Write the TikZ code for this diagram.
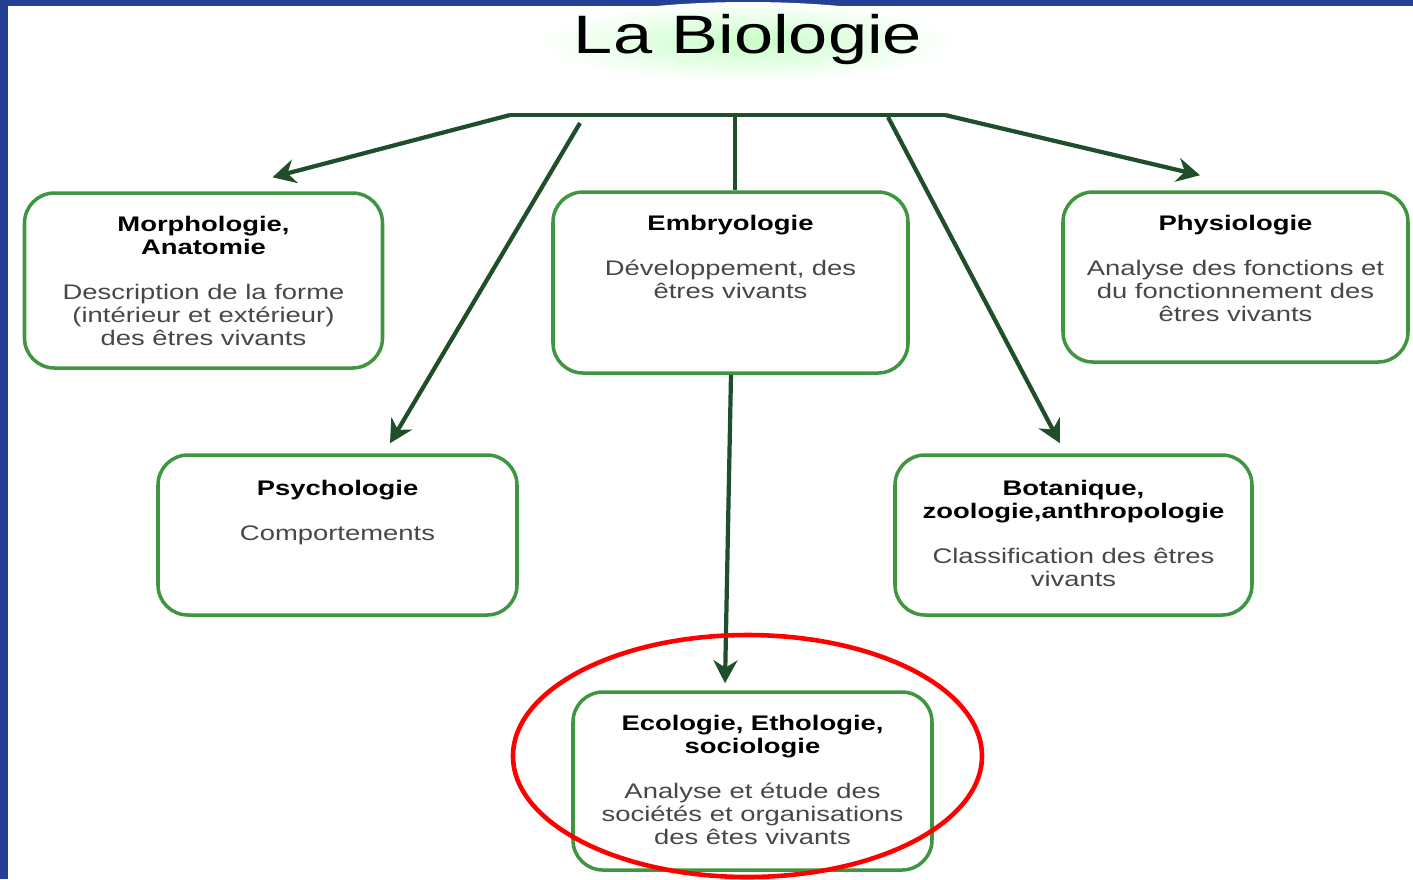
\documentclass[tikz,border=0pt]{standalone}
\usepackage{fontspec}
\usepackage{tikz}
\usetikzlibrary{positioning,arrows.meta}
\newfontfamily\widesans[FakeStretch=1.3]{Liberation Sans}
\definecolor{frameblue}{RGB}{36,64,148}
\definecolor{boxgreen}{RGB}{64,150,64}
\definecolor{arrgreen}{RGB}{30,78,42}
\newcommand{\boxhead}[1]{\textcolor{black}{\textbf{#1}}}

\begin{document}
\begin{tikzpicture}[
	box/.style={draw=boxgreen, line width=1pt, rounded corners=0.3cm, fill=white},
	txt/.style={align=center, inner sep=0pt, font=\widesans\fontsize{6}{6.5}\selectfont, text=black!72},
	arr/.style={->, >={Stealth[length=2.3mm,width=2.4mm]}, line width=1.2pt, arrgreen}
	]
	\useasboundingbox (0,0) rectangle (14.13,-8.79);
	\fill[white] (0,0) rectangle (14.13,-8.79);
	\fill[frameblue] (0,0) rectangle (0.08,-8.79);
	\fill[frameblue] (0,0) rectangle (14.13,-0.055);
	
	% title
	\shade[inner color=green!22, outer color=white] (7.48,-0.42) ellipse (2.1cm and 0.4cm);
	\node[anchor=base, inner sep=0pt, font=\widesans\fontsize{15.4}{18}\selectfont] (title) at (7.48,-0.53) {La Biologie};
	
	% boxes
	\node[box, minimum width=3.58cm, minimum height=1.75cm] (morpho) at (2.035,-2.805) {};
	\node[box, minimum width=3.55cm, minimum height=1.81cm] (embryo) at (7.305,-2.825) {};
	\node[box, minimum width=3.45cm, minimum height=1.70cm] (physio) at (12.355,-2.77) {};
	\node[box, minimum width=3.59cm, minimum height=1.60cm] (psycho) at (3.375,-5.35) {};
	\node[box, minimum width=3.57cm, minimum height=1.60cm] (botan) at (10.735,-5.35) {};
	\node[box, minimum width=3.59cm, minimum height=1.78cm] (ecolo) at (7.525,-7.81) {};
	
	\node[txt, below=0.24cm of morpho.north] (morphotxt) {\boxhead{Morphologie,}\\\boxhead{Anatomie}\\[6.5pt]Description de la forme\\(intérieur et extérieur)\\des êtres vivants};
	\node[txt, below=0.24cm of embryo.north] (embryotxt) {\boxhead{Embryologie}\\[6.5pt]Développement, des\\êtres vivants};
	\node[txt, below=0.24cm of physio.north] (physiotxt) {\boxhead{Physiologie}\\[6.5pt]Analyse des fonctions et\\du fonctionnement des\\êtres vivants};
	\node[txt, below=0.26cm of psycho.north] (psychotxt) {\boxhead{Psychologie}\\[6.5pt]Comportements};
	\node[txt, below=0.26cm of botan.north] (botantxt) {\boxhead{Botanique,}\\\boxhead{zoologie,anthropologie}\\[6.5pt]Classification des êtres\\vivants};
	\node[txt, below=0.24cm of ecolo.north] (ecolotxt) {\boxhead{Ecologie, Ethologie,}\\\boxhead{sociologie}\\[6.5pt]Analyse et étude des\\sociétés et organisations\\des êtes vivants};
	
	% connectors
	\coordinate (barl) at (5.10,-1.15);
	\coordinate (barm) at (7.35,-1.15);
	\coordinate (barr) at (9.45,-1.15);
	\draw[arrgreen, line width=1.2pt] (barl) -- (barr);
	\draw[arr] (barl) -- ([xshift=0.69cm,yshift=0.14cm]morpho.north);
	\draw[arr] ([xshift=0.70cm,yshift=-0.08cm]barl) -- ([xshift=0.525cm,yshift=0.10cm]psycho.north);
	\draw[arrgreen, line width=1.2pt] (barm) -- (barm |- embryo.north);
	\draw[arr] ([xshift=-0.57cm,yshift=-0.02cm]barr) -- ([xshift=-0.135cm,yshift=0.10cm]botan.north);
	\draw[arr] (barr) -- ([xshift=-0.355cm,yshift=0.15cm]physio.north);
	\draw[arr] ([xshift=0.005cm]embryo.south) -- ([xshift=-0.275cm,yshift=0.07cm]ecolo.north);
	
	% highlight
	\draw[red, line width=1.3pt] (7.475,-7.56) ellipse (2.345cm and 1.21cm);
\end{tikzpicture}
\end{document}
